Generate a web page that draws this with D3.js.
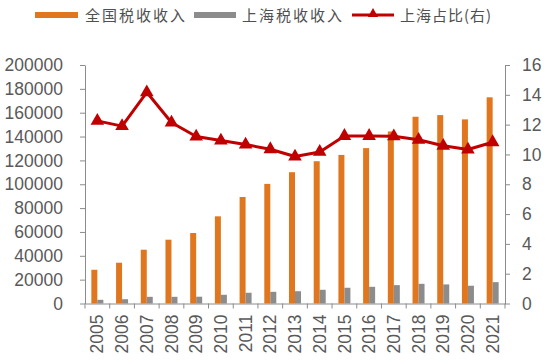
<!DOCTYPE html>
<html>
<head>
<meta charset="utf-8">
<script src="https://cdn.jsdelivr.net/npm/d3@7"></script>
<style>
  body { margin: 0; background: #fff; }
  svg { display: block; }
  .axis text { font-family: "Liberation Sans", Arial, sans-serif; font-size: 17.5px; fill: #595959; }
  .axis path, .axis line { stroke: #8c8c8c; }
  .legend text { font-family: "Noto Sans CJK SC", sans-serif; font-size: 15px; fill: #505050; }
</style>
</head>
<body>
<svg width="550" height="364"></svg>
<script>
// 年份
var years = ["2005", "2006", "2007", "2008", "2009", "2010", "2011", "2012", "2013",
  "2014", "2015", "2016", "2017", "2018", "2019", "2020", "2021"];
// 全国税收收入(亿元)
var nationTax = [28300, 34200, 45100, 53500, 59100, 73100, 89300, 100300, 110100,
  119300, 124600, 130300, 144300, 156600, 158000, 154400, 172900];
// 上海税收收入(亿元)
var shanghaiTax = [3100, 3600, 5600, 5600, 5700, 7300, 9000, 9800, 10300,
  11500, 13200, 14000, 15400, 16500, 16000, 14900, 17900];
// 上海占比(%)
var shanghaiShare = [12.25, 11.9, 14.17, 12.14, 11.2, 10.93, 10.66, 10.35, 9.86,
  10.17, 11.24, 11.24, 11.22, 10.98, 10.58, 10.33, 10.82];
var leftTicks = [0, 20000, 40000, 60000, 80000, 100000, 120000, 140000, 160000, 180000, 200000];
var rightTicks = [0, 2, 4, 6, 8, 10, 12, 14, 16];

var cfg = {
  left: 85, right: 505, top: 65, bottom: 303.5,
  barWidth: 6,
  orange: "#e0771f",
  gray: "#8c8c8c",
  red: "#c00000"
};

var svg = d3.select("svg");

var x = d3.scaleBand().domain(years).range([cfg.left, cfg.right]).padding(0);
var yL = d3.scaleLinear().domain([0, 200000]).range([cfg.bottom, cfg.top]);
var yR = d3.scaleLinear().domain([0, 16]).range([cfg.bottom, cfg.top]);

// 柱子
var g = svg.append("g");
g.selectAll("rect.nation")
  .data(nationTax)
  .enter().append("rect")
  .attr("class", "nation")
  .attr("x", function (d, i) { return x(years[i]) + x.bandwidth() / 2 - cfg.barWidth; })
  .attr("y", function (d) { return yL(d); })
  .attr("width", cfg.barWidth)
  .attr("height", function (d) { return cfg.bottom - yL(d); })
  .attr("fill", cfg.orange);
g.selectAll("rect.sh")
  .data(shanghaiTax)
  .enter().append("rect")
  .attr("class", "sh")
  .attr("x", function (d, i) { return x(years[i]) + x.bandwidth() / 2; })
  .attr("y", function (d) { return yL(d); })
  .attr("width", cfg.barWidth)
  .attr("height", function (d) { return cfg.bottom - yL(d); })
  .attr("fill", cfg.gray);

// 坐标轴
svg.append("g").attr("class", "axis")
  .attr("transform", "translate(" + cfg.left + ",0)")
  .call(d3.axisLeft(yL).tickValues(leftTicks).tickFormat(d3.format("d"))
    .tickSize(5).tickPadding(17).tickSizeOuter(0));
svg.append("g").attr("class", "axis")
  .attr("transform", "translate(" + cfg.right + ",0)")
  .call(d3.axisRight(yR).tickValues(rightTicks).tickSize(5).tickPadding(12).tickSizeOuter(0));

var axX = svg.append("g").attr("class", "axis")
  .attr("transform", "translate(0," + cfg.bottom + ")")
  .call(d3.axisBottom(x).tickSize(0).tickSizeOuter(0));
axX.selectAll("text")
  .attr("transform", "rotate(-90)")
  .attr("text-anchor", "end")
  .attr("dy", "0.35em")
  .attr("x", -11)
  .attr("y", 0);
// 类别分隔刻度
axX.selectAll("line.sep")
  .data(d3.range(years.length + 1))
  .enter().append("line")
  .attr("class", "sep")
  .attr("x1", function (d) { return cfg.left + d * x.step(); })
  .attr("x2", function (d) { return cfg.left + d * x.step(); })
  .attr("y1", 0).attr("y2", 5);

// 占比折线
var line = d3.line()
  .x(function (d, i) { return x(years[i]) + x.bandwidth() / 2; })
  .y(function (d) { return yR(d); });
svg.append("path")
  .attr("d", line(shanghaiShare))
  .attr("fill", "none")
  .attr("stroke", cfg.red)
  .attr("stroke-width", 3)
  .attr("stroke-linejoin", "round");
var tri = d3.symbol().type(d3.symbolTriangle).size(80);
svg.selectAll("path.mk")
  .data(shanghaiShare)
  .enter().append("path")
  .attr("class", "mk")
  .attr("d", tri)
  .attr("transform", function (d, i) {
    return "translate(" + (x(years[i]) + x.bandwidth() / 2) + "," + yR(d) + ")";
  })
  .attr("fill", cfg.red);

// 图例
var lg = svg.append("g").attr("class", "legend");
lg.append("rect").attr("x", 35).attr("y", 12).attr("width", 43).attr("height", 6).attr("fill", cfg.orange);
lg.append("text").attr("x", 85).attr("y", 20.5).attr("letter-spacing", 2).text("全国税收收入");
lg.append("rect").attr("x", 194).attr("y", 12).attr("width", 42).attr("height", 6).attr("fill", cfg.gray);
lg.append("text").attr("x", 242).attr("y", 20.5).attr("letter-spacing", 2).text("上海税收收入");
lg.append("line").attr("x1", 352).attr("x2", 394).attr("y1", 15).attr("y2", 15)
  .attr("stroke", cfg.red).attr("stroke-width", 3);
lg.append("path").attr("d", d3.symbol().type(d3.symbolTriangle).size(45))
  .attr("transform", "translate(373,14)").attr("fill", cfg.red);
lg.append("text").attr("x", 400).attr("y", 20.5).attr("letter-spacing", 1).text("上海占比(右)");
</script>
</body>
</html>
